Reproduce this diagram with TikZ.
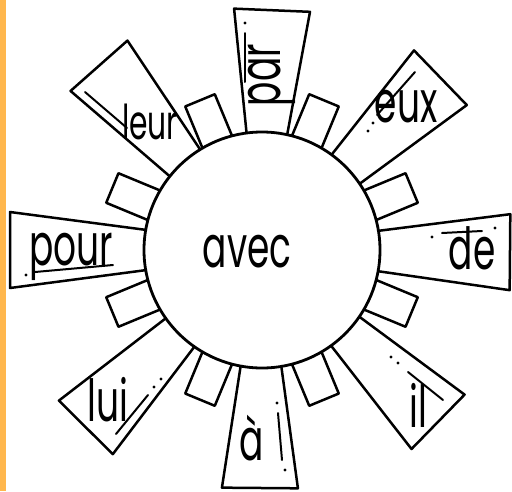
\documentclass[tikz,border=0pt]{standalone}
\usepackage{fontspec}
\newfontfamily\handfont[FakeStretch=0.62]{Poppins}
\definecolor{edgeorange}{RGB}{255,183,77}

\begin{document}
\begin{tikzpicture}[x=1pt,y=-1pt,
  ray/.style={draw=black,fill=white,line width=2.5pt,line join=round},
  tab/.style={draw=black,fill=white,line width=2.5pt,line join=round},
  word/.style={font=\handfont\fontsize{58}{58}\selectfont,inner sep=0pt},
  shine/.style={line width=2pt,line cap=round}]
\useasboundingbox (0,0) rectangle (512,491);
\fill[edgeorange] (0,0) rectangle (6,491);

% big rays: angle / length
\foreach \ang/\len in {87.6/240, 44/248, -0.5/248, -44.3/246,
                       -90.5/238, -134.8/250, 180/252, 131.5/246}
  \draw[ray,shift={(262,250)},rotate=\ang]
    (100,-18) -- (\len,-38) -- (\len,38) -- (100,18) -- cycle;

% small tabs between the rays
\foreach \ang in {22.5,67.5,112.5,157.5,202.5,247.5,292.5,337.5}
  \draw[tab,shift={(262,250)},rotate=\ang]
    (100,-16) -- (162,-16) -- (162,16) -- (100,16) -- cycle;

% hub
\draw[line width=2.8pt,fill=white] (262,250) circle[radius=118];
\node[word] (avec) at (247,252) {avec};

% words on the rays
\node[word,rotate=90] (par) at (272,75) {par};
\node[word] (eux) at (406,107) {eux};
\node[word] (de) at (472,248) {de};
\node[word] (il) at (418,405) {il};
\node[word] (a) at (252,438) {à};
\node[word] (lui) at (108,400) {lui};
\node[word] (pour) at (71,257) {pour};
\node[word,font=\handfont\fontsize{48}{48}\selectfont] (leur) at (150,122) {leur};

% shine strokes
\draw[shine] (245,33) -- (245,82);
\draw[shine] (415,72) -- (377,115);
\draw[shine] (442,233) -- (482,231);
\draw[shine] (408,372) -- (443,400);
\draw[shine] (278,413) -- (282,460);
\draw[shine] (148,395) -- (116,434);
\draw[shine] (35,272) -- (113,265);
\draw[shine] (85,92) -- (127,128);
\foreach \p in {(245,23),(250,91),(373,123),(368,131),(432,237),(495,228),
                (391,357),(398,363),(277,403),(285,470),(161,379),(154,387),(26,275)}
  \fill \p circle[radius=1.6];
\end{tikzpicture}
\end{document}
